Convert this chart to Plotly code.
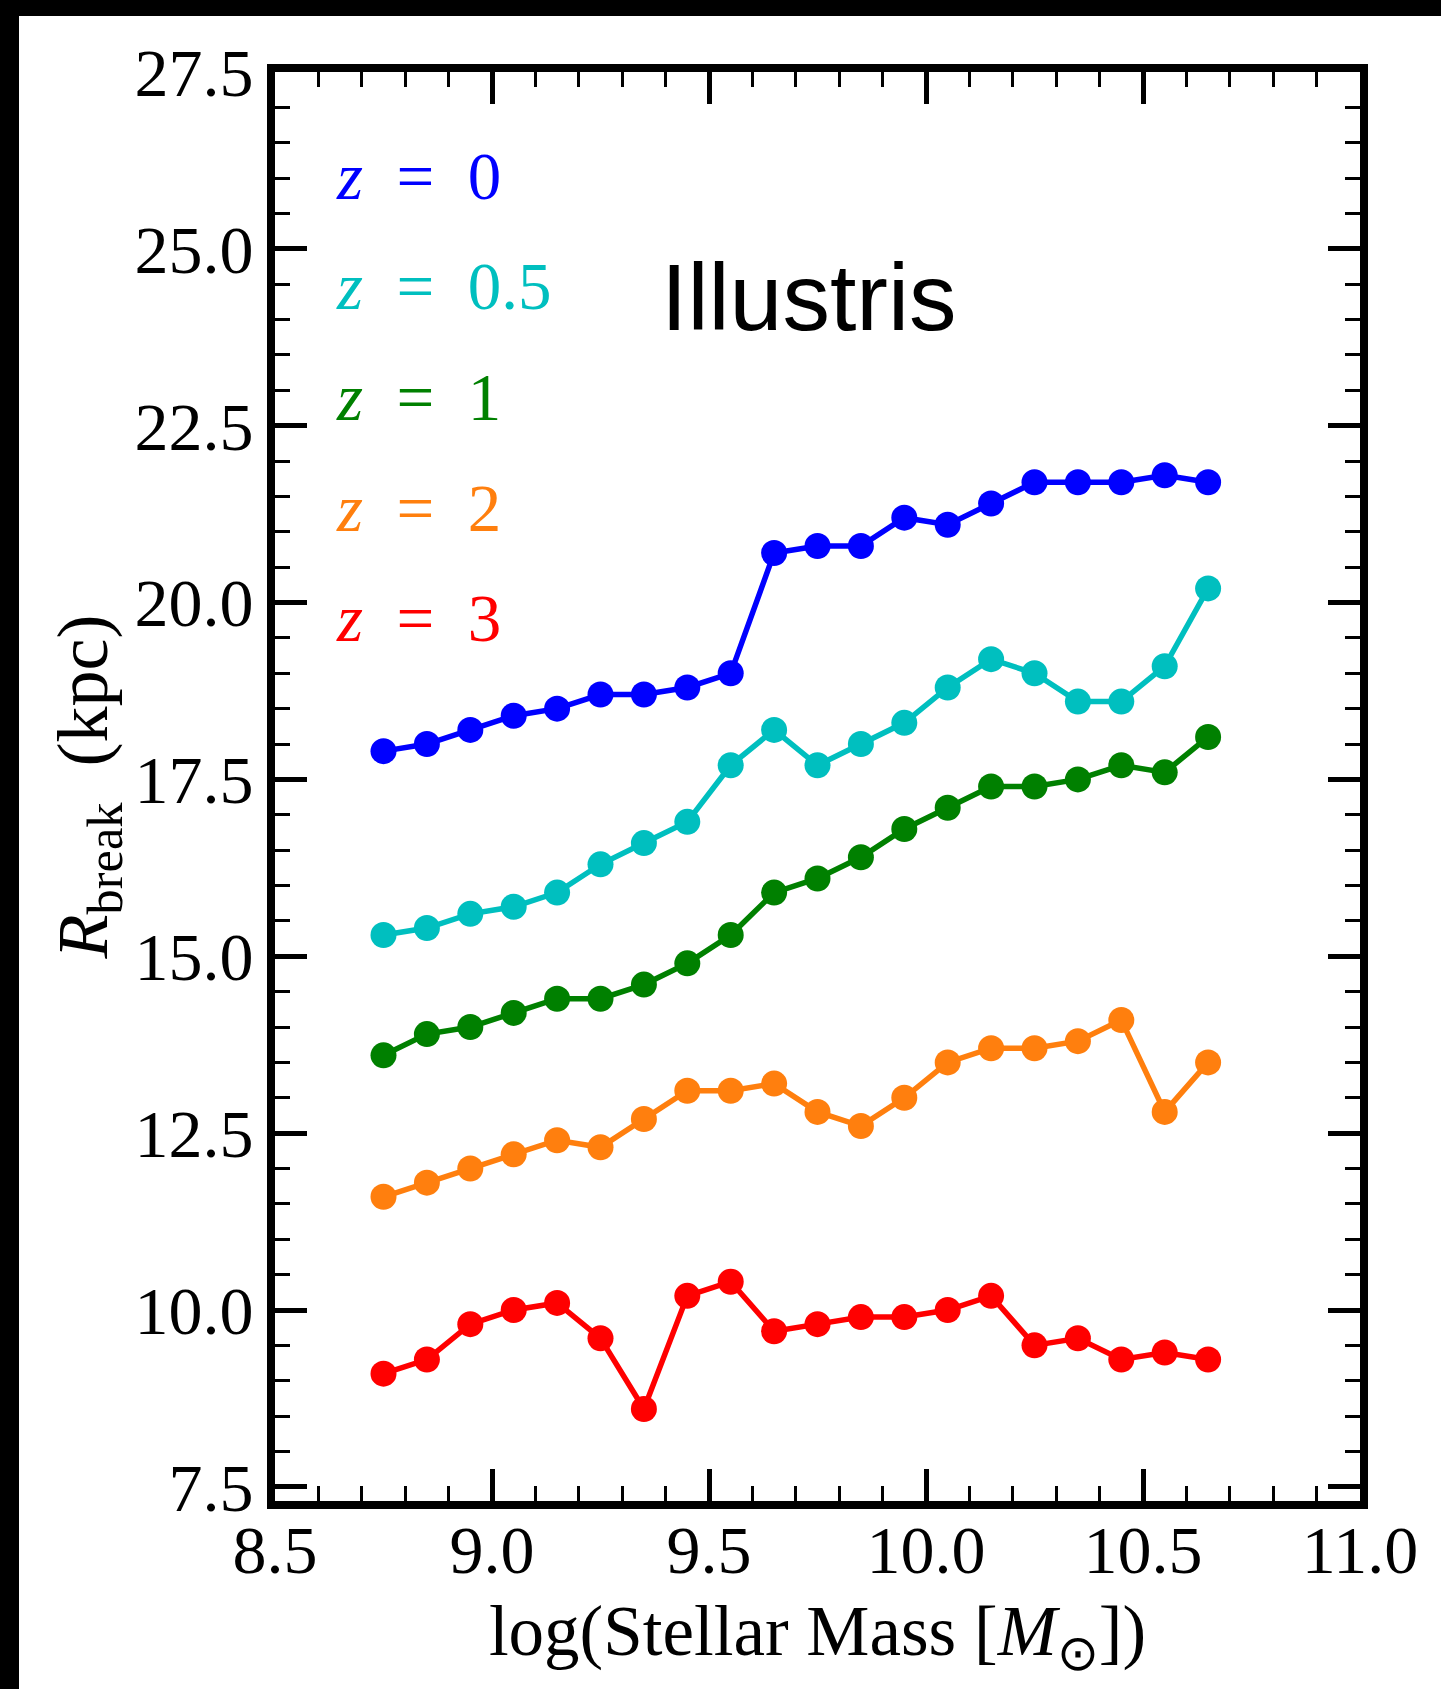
import plotly.graph_objects as go

# Stellar-mass bin centres (log M*/Msun)
log_mstar = [8.75, 8.85, 8.95, 9.05, 9.15, 9.25, 9.35, 9.45, 9.55, 9.65,
             9.75, 9.85, 9.95, 10.05, 10.15, 10.25, 10.35, 10.45, 10.55, 10.65]

# Median break radius (kpc) per redshift
rbreak_z0 = [17.9, 18.0, 18.2, 18.4, 18.5, 18.7, 18.7, 18.8, 19.0, 20.7,
             20.8, 20.8, 21.2, 21.1, 21.4, 21.7, 21.7, 21.7, 21.8, 21.7]
rbreak_z05 = [15.3, 15.4, 15.6, 15.7, 15.9, 16.3, 16.6, 16.9, 17.7, 18.2,
              17.7, 18.0, 18.3, 18.8, 19.2, 19.0, 18.6, 18.6, 19.1, 20.2]
rbreak_z1 = [13.6, 13.9, 14.0, 14.2, 14.4, 14.4, 14.6, 14.9, 15.3, 15.9,
             16.1, 16.4, 16.8, 17.1, 17.4, 17.4, 17.5, 17.7, 17.6, 18.1]
rbreak_z2 = [11.6, 11.8, 12.0, 12.2, 12.4, 12.3, 12.7, 13.1, 13.1, 13.2,
             12.8, 12.6, 13.0, 13.5, 13.7, 13.7, 13.8, 14.1, 12.8, 13.5]
rbreak_z3 = [9.1, 9.3, 9.8, 10.0, 10.1, 9.6, 8.6, 10.2, 10.4, 9.7,
             9.8, 9.9, 9.9, 10.0, 10.2, 9.5, 9.6, 9.3, 9.4, 9.3]

NB = "\u00a0"
redshifts = ["0", "0.5", "1", "2", "3"]
series_labels = [f"<i>z</i>{NB*2}={NB*2}{z}" for z in redshifts]
series_values = [rbreak_z0, rbreak_z05, rbreak_z1, rbreak_z2, rbreak_z3]
series_colors = ["#0000ff", "#00bfbf", "#008000", "#ff7f0e", "#ff0000"]

x_ticks = [8.5, 9.0, 9.5, 10.0, 10.5, 11.0]
y_ticks = [7.5, 10.0, 12.5, 15.0, 17.5, 20.0, 22.5, 25.0, 27.5]

SERIF = "Liberation Serif, Times New Roman, serif"

W, H = 1441, 1689
ML, MR, MT, MB = 275, 81, 72, 188
PW, PH = W - ML - MR, H - MT - MB

fig = go.Figure()
for name, vals, col in zip(series_labels, series_values, series_colors):
    fig.add_trace(go.Scatter(
        x=log_mstar, y=vals, mode="lines+markers", name=name,
        line=dict(color=col, width=5.5),
        marker=dict(color=col, size=26, line=dict(width=0)),
        showlegend=False,
    ))

# Coloured redshift labels in the upper-left corner
label_y = [26.03, 24.48, 22.9, 21.33, 19.78]
for name, col, yy in zip(series_labels, series_colors, label_y):
    fig.add_annotation(x=8.635, y=yy, xref="x", yref="y", text=name,
                       showarrow=False, xanchor="left", yanchor="middle",
                       font=dict(family=SERIF, size=67, color=col))

fig.add_annotation(x=9.73, y=24.32, xref="x", yref="y", text="Illustris",
                   showarrow=False, xanchor="center", yanchor="middle",
                   font=dict(family="Liberation Sans, Arial, sans-serif", size=95, color="black"))

# Black frame strips along the top and left edges of the page
def px_x(p):
    return (p - ML) / PW

def px_y(p):
    return (H - MB - p) / PH

fig.add_shape(type="rect", xref="paper", yref="paper", layer="above",
              x0=px_x(0), x1=px_x(19), y0=px_y(H), y1=px_y(0),
              fillcolor="black", line=dict(width=0))
fig.add_shape(type="rect", xref="paper", yref="paper", layer="above",
              x0=px_x(0), x1=px_x(W), y0=px_y(16), y1=px_y(0),
              fillcolor="black", line=dict(width=0))

axis_common = dict(
    showline=True, linecolor="black", linewidth=8, mirror="allticks",
    ticks="inside", ticklen=32, tickwidth=4.5, tickcolor="black",
    showgrid=False, zeroline=False,
    tickfont=dict(family=SERIF, size=68, color="black"),
)

fig.update_xaxes(
    range=[8.5, 11.0], tickvals=x_ticks, ticktext=[f"{v:.1f}" for v in x_ticks],
    ticklabelstandoff=-18,
    minor=dict(dtick=0.1, tick0=8.5, ticks="inside", ticklen=15, tickwidth=3, tickcolor="black", showgrid=False),
    title=dict(text="log(Stellar Mass [<i>M</i><sub>⊙</sub>])",
               font=dict(family=SERIF, size=71, color="black"), standoff=22),
    **axis_common,
)
fig.update_yaxes(
    range=[7.3, 27.5], tickvals=y_ticks, ticktext=[f"{v:.1f}" for v in y_ticks],
    minor=dict(dtick=0.5, tick0=7.5, ticks="inside", ticklen=15, tickwidth=3, tickcolor="black", showgrid=False),
    title=dict(text="<i>R</i><sub>break</sub>  (kpc)",
               font=dict(family=SERIF, size=72, color="black"), standoff=6),
    **axis_common,
)

fig.update_layout(
    width=W, height=H,
    margin=dict(l=ML, r=MR, t=MT, b=MB, pad=0),
    paper_bgcolor="white", plot_bgcolor="white",
)

fig.write_html("out.html")
